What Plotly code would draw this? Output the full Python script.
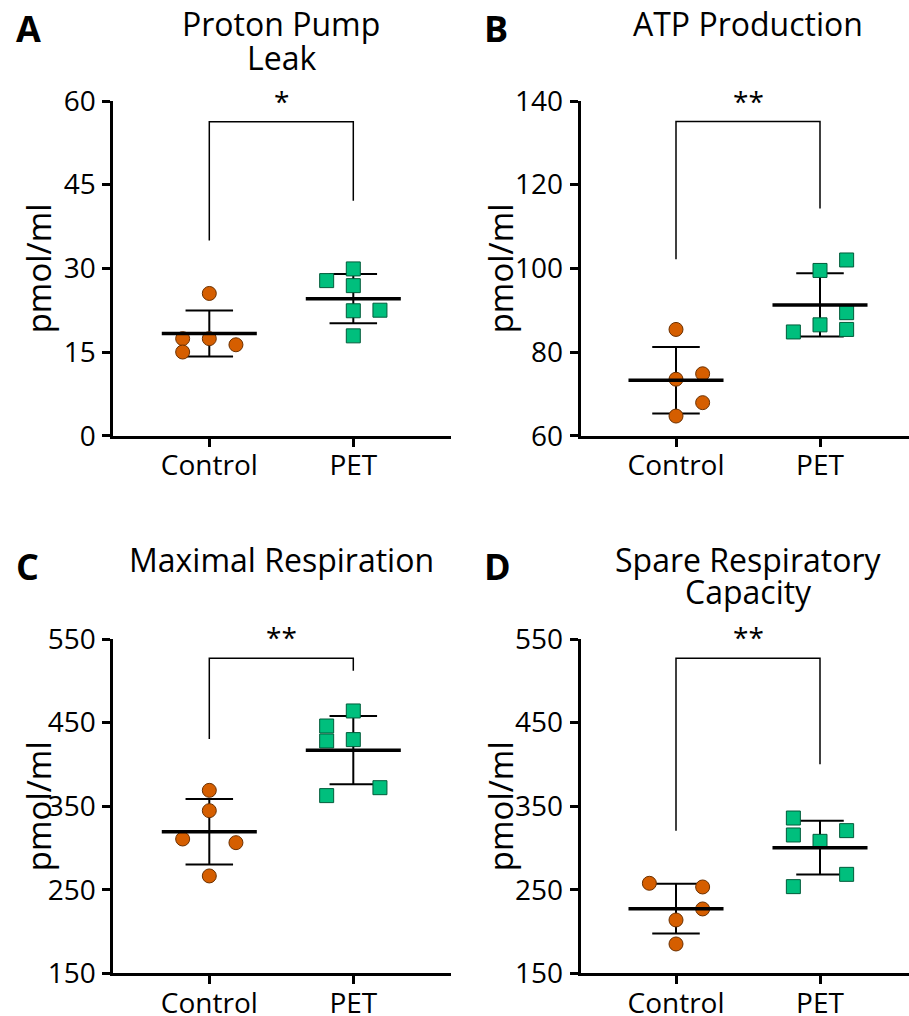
import numpy as np
import plotly.graph_objects as go

# ---------------- data ----------------
groups = ["Control", "PET"]
titles = ["Proton Pump<br>Leak", "ATP Production", "Maximal Respiration", "Spare Respiratory<br>Capacity"]
letters = ["A", "B", "C", "D"]

a_control = [25.5, 17.4, 17.4, 15.0, 16.3]
a_pet = [29.9, 27.8, 26.9, 22.4, 22.5, 17.9]
b_control = [85.4, 73.5, 74.8, 67.9, 64.7]
b_pet = [102.0, 99.5, 89.4, 86.5, 84.8, 85.4]
c_control = [368.9, 344.6, 310.7, 306.3, 266.5]
c_pet = [463.9, 445.9, 428.0, 429.6, 372.1, 362.6]
d_control = [257.7, 253.3, 227.0, 213.8, 185.1]
d_pet = [335.8, 315.5, 320.7, 307.9, 268.4, 253.7]

# horizontal jitter slots (-1 left, 0 centre, +1 right)
a_control_slot = [0, -1, 0, -1, 1]
a_pet_slot = [0, -1, 0, 0, 1, 0]
b_control_slot = [0, 0, 1, 1, 0]
b_pet_slot = [1, 0, 1, 0, -1, 1]
c_control_slot = [0, 0, -1, 1, 0]
c_pet_slot = [0, -1, -1, 0, 1, -1]
d_control_slot = [-1, 1, 1, 0, 0]
d_pet_slot = [-1, -1, 1, 0, 1, -1]

y_ticks = [[0, 15, 30, 45, 60], [60, 80, 100, 120, 140],
           [150, 250, 350, 450, 550], [150, 250, 350, 450, 550]]
significance = ["*", "**", "**", "**"]
# bracket: [top, left leg bottom, right leg bottom]
brackets = [[56.3, 35.0, 42.1], [135.1, 102.2, 114.3],
            [526.9, 430.4, 512.1], [526.9, 320.7, 400.0]]

controls = [a_control, b_control, c_control, d_control]
pets = [a_pet, b_pet, c_pet, d_pet]
control_slots = [a_control_slot, b_control_slot, c_control_slot, d_control_slot]
pet_slots = [a_pet_slot, b_pet_slot, c_pet_slot, d_pet_slot]

# ---------------- layout geometry ----------------
W, H = 909, 1016
FONT = "Open Sans"
ORANGE = "#D55E00"
ORANGE_EDGE = "#6b3000"
GREEN = "#00BF7D"
GREEN_EDGE = "#005c3a"
JIT = 0.185
MEAN_HW = 0.33
CAP_HW = 0.165

# pixel boxes (left, right, top, bottom)
boxes = [(113.3, 451, 101, 435.7), (580.7, 909, 101, 435.7),
         (113.3, 451, 639, 973.3), (580.7, 909, 639, 973.3)]
ppu = 144.0  # pixels per category unit
ctrl_px = [209.3, 676, 209.3, 676]
title_centers = [[24, 57], [24], [559], [559, 591]]
letter_pos = [(14, 28.5), (482, 28.5), (14, 566.5), (482, 566.5)]
ytitle_x = [38, 500, 38, 500]

fig = go.Figure()
layout = dict(width=W, height=H, margin=dict(l=0, r=0, t=0, b=0, autoexpand=False),
              plot_bgcolor="white", paper_bgcolor="white", showlegend=False,
              font=dict(family=FONT, color="black"))
annotations = []


def py(p):
    return 1 - p / H


for i in range(4):
    xa = "x" if i == 0 else f"x{i+1}"
    ya = "y" if i == 0 else f"y{i+1}"
    xkey = "xaxis" if i == 0 else f"xaxis{i+1}"
    ykey = "yaxis" if i == 0 else f"yaxis{i+1}"
    l, r, t, b = boxes[i]
    x0 = -(ctrl_px[i] - l) / ppu
    x1 = (r - ctrl_px[i]) / ppu
    yt = y_ticks[i]
    layout[xkey] = dict(domain=[l / W, r / W], range=[x0, x1], anchor=ya,
                        tickvals=[0, 1], ticktext=groups, showline=True,
                        linewidth=3, linecolor="black", ticks="outside", ticklen=8,
                        tickwidth=2.5, tickcolor="black", showgrid=False, zeroline=False,
                        ticklabelstandoff=-5,
                        tickfont=dict(size=28, family=FONT, color="black"),
                        automargin=False, fixedrange=True)
    layout[ykey] = dict(domain=[py(b), py(t)], range=[yt[0], yt[-1]], anchor=xa,
                        tickvals=yt, showline=True, linewidth=3, linecolor="black",
                        ticks="outside", ticklen=8, tickwidth=2.5, tickcolor="black",
                        showgrid=False, zeroline=False, ticklabelstandoff=1,
                        tickfont=dict(size=28, family=FONT, color="black"),
                        automargin=False, fixedrange=True)

    for gi, (vals, slots, col, edge, sym) in enumerate([
            (controls[i], control_slots[i], ORANGE, ORANGE_EDGE, "circle"),
            (pets[i], pet_slots[i], GREEN, GREEN_EDGE, "square")]):
        v = np.array(vals, dtype=float)
        m = v.mean()
        s = v.std(ddof=1)
        fig.add_trace(go.Scatter(
            x=[gi, gi, None, gi - CAP_HW, gi + CAP_HW, None, gi - CAP_HW, gi + CAP_HW],
            y=[m - s, m + s, None, m + s, m + s, None, m - s, m - s],
            mode="lines", line=dict(color="black", width=2), xaxis=xa, yaxis=ya,
            hoverinfo="skip"))
        fig.add_trace(go.Scatter(
            x=[gi + JIT * k for k in slots], y=vals, mode="markers",
            marker=dict(symbol=sym, size=14, color=col, line=dict(color=edge, width=1)),
            xaxis=xa, yaxis=ya))
        fig.add_trace(go.Scatter(
            x=[gi - MEAN_HW, gi + MEAN_HW], y=[m, m], mode="lines",
            line=dict(color="black", width=3.5), xaxis=xa, yaxis=ya, hoverinfo="skip"))

    top, lb, rb = brackets[i]
    fig.add_trace(go.Scatter(x=[0, 0, 1, 1], y=[lb, top, top, rb], mode="lines",
                             line=dict(color="black", width=1.5), xaxis=xa, yaxis=ya,
                             hoverinfo="skip"))
    annotations.append(dict(x=0.5, y=top, xref=xa, yref=ya, text=significance[i],
                            showarrow=False, yanchor="bottom", yshift=0,
                            font=dict(size=28, family=FONT, color="black")))

    xc = (ctrl_px[i] + 0.5 * ppu) / W
    for line, yc in zip(titles[i].split("<br>"), title_centers[i]):
        annotations.append(dict(x=xc, y=py(yc), xref="paper", yref="paper",
                                text=line, showarrow=False, xanchor="center",
                                yanchor="middle",
                                font=dict(size=32, family=FONT, color="black")))
    lx, ly = letter_pos[i]
    annotations.append(dict(x=lx / W, y=py(ly), xref="paper", yref="paper",
                            text=f"<b>{letters[i]}</b>", showarrow=False,
                            xanchor="left", yanchor="middle",
                            font=dict(size=36, family=FONT, color="black", weight=800)))
    annotations.append(dict(x=ytitle_x[i] / W, y=py((t + b) / 2), xref="paper",
                            yref="paper", text="pmol/ml", textangle=-90,
                            showarrow=False, xanchor="center", yanchor="middle",
                            font=dict(size=33, family=FONT, color="black")))

layout["annotations"] = annotations
fig.update_layout(**layout)
fig.write_html("out.html", config={"displayModeBar": False},
               post_script="document.body.style.margin='0px';")
